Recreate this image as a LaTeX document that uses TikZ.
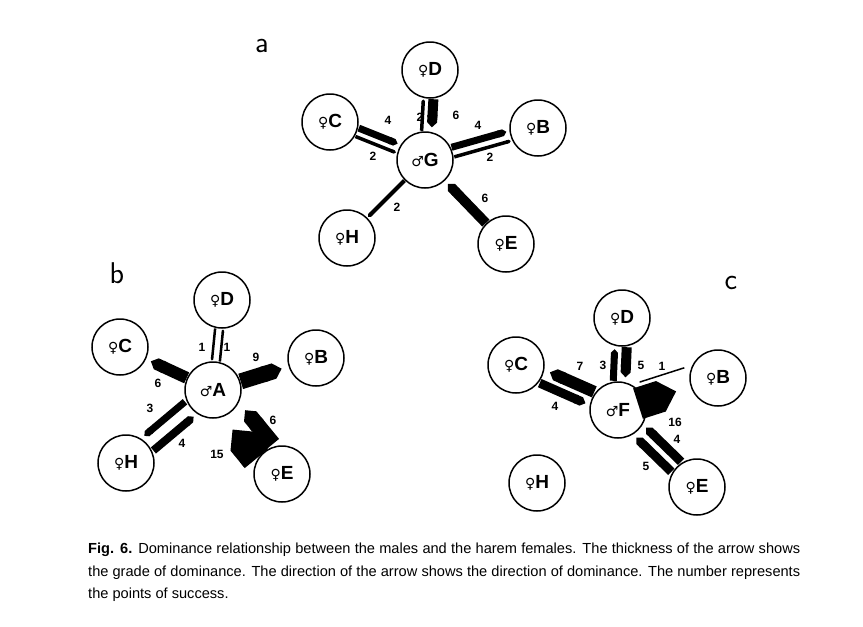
\documentclass[tikz,border=0pt]{standalone}
\usepackage{fontspec}
\setmainfont{Liberation Sans}
\newfontfamily\symfont{DejaVu Sans}
\usetikzlibrary{calc,arrows.meta}

\tikzset{
  animal/.style={draw, line width=1.5pt, circle, minimum size=56pt, inner sep=0pt, font=\bfseries\fontsize{19}{19}\selectfont},
  num/.style={font=\bfseries\fontsize{12}{12}\selectfont, inner sep=0pt},
  panel/.style={font=\sffamily\fontsize{30}{30}\selectfont, inner sep=0pt}
}
% dominance bar from #1 towards #2: width #3, side offset #4
\newcommand\dombar[4]{%
  \pgfmathsetlengthmacro\tipgap{28pt+0.5*#3}%
  \draw[line width=#3, line cap=butt, -{Triangle Cap[]}]
    ($(#1)!29pt!(#2)!#4!90:(#2)$) -- ($(#2)!\tipgap!(#1)!#4!-90:(#1)$);}
\newcommand\fem[1]{{\symfont\fontsize{14}{14}\selectfont ♀}#1}
\newcommand\mal[1]{{\symfont\fontsize{14}{14}\selectfont ♂}#1}

\begin{document}
\begin{tikzpicture}[x=1pt, y=-1pt]
\useasboundingbox (0,0) rectangle (863,627);

% panel a
\node[panel] (la) at (262,46) {a};
\node[animal] (aG) at (425,160) {\mal{G}};
\node[animal] (aD) at (430,70) {\fem{D}};
\node[animal] (aC) at (330,122) {\fem{C}};
\node[animal] (aB) at (538,128) {\fem{B}};
\node[animal] (aH) at (347,238) {\fem{H}};
\node[animal] (aE) at (506,244) {\fem{E}};
\dombar{aD}{aG}{10pt}{5pt}
\dombar{aG}{aD}{3.5pt}{5pt}
\dombar{aC}{aG}{7pt}{5pt}
\dombar{aC}{aG}{3.5pt}{-4pt}
\dombar{aG}{aB}{7pt}{5pt}
\dombar{aG}{aB}{3.5pt}{-5pt}
\dombar{aG}{aH}{4pt}{0pt}
\dombar{aE}{aG}{10pt}{0pt}
\node[num] (na1) at (420,117) {2};
\node[num] (na2) at (456,115) {6};
\node[num] (na3) at (388,120) {4};
\node[num] (na4) at (373,156) {2};
\node[num] (na5) at (478,125) {4};
\node[num] (na6) at (490,157) {2};
\node[num] (na7) at (397,207) {2};
\node[num] (na8) at (485,198) {6};

% panel b
\node[panel] (lb) at (117,273) {b};
\node[animal] (bA) at (213,390) {\mal{A}};
\node[animal] (bD) at (222,300) {\fem{D}};
\node[animal] (bC) at (120,347) {\fem{C}};
\node[animal] (bB) at (316,358) {\fem{B}};
\node[animal] (bH) at (126,463) {\fem{H}};
\node[animal] (bE) at (282,474) {\fem{E}};
\dombar{bD}{bA}{2.5pt}{-4pt}
\dombar{bA}{bD}{2.5pt}{-4pt}
\dombar{bA}{bC}{12pt}{0pt}
\dombar{bA}{bB}{16pt}{0pt}
\dombar{bA}{bH}{7pt}{-9pt}
\dombar{bH}{bA}{8pt}{-8pt}
\dombar{bE}{bA}{30pt}{10pt}
\dombar{bE}{bA}{16pt}{-12pt}
\node[num] (nb1) at (202,347) {1};
\node[num] (nb2) at (227,347) {1};
\node[num] (nb3) at (158,383) {6};
\node[num] (nb4) at (256,357) {9};
\node[num] (nb5) at (150,408) {3};
\node[num] (nb6) at (182,443) {4};
\node[num] (nb7) at (217,454) {15};
\node[num] (nb8) at (273,420) {6};

% panel c
\node[panel] (lc) at (731,283) {c};
\node[animal] (cF) at (618,410) {\mal{F}};
\node[animal] (cD) at (622,318) {\fem{D}};
\node[animal] (cC) at (516,365) {\fem{C}};
\node[animal] (cB) at (718,378) {\fem{B}};
\node[animal] (cH) at (537,483) {\fem{H}};
\node[animal] (cE) at (697,487) {\fem{E}};
\dombar{cF}{cD}{7pt}{6pt}
\dombar{cD}{cF}{10pt}{6pt}
\dombar{cF}{cC}{12pt}{-7pt}
\dombar{cC}{cF}{9pt}{-7pt}
\dombar{cF}{cB}{32pt}{0pt}
\dombar{cB}{cF}{1.5pt}{-20pt}
\dombar{cE}{cF}{9pt}{7pt}
\dombar{cE}{cF}{9pt}{-7pt}
\node[num] (nc1) at (603,365) {3};
\node[num] (nc2) at (641,365) {5};
\node[num] (nc3) at (580,366) {7};
\node[num] (nc4) at (555,406) {4};
\node[num] (nc5) at (662,366) {1};
\node[num] (nc6) at (675,422) {16};
\node[num] (nc7) at (677,439) {4};
\node[num] (nc8) at (646,466) {5};

% caption
\node[anchor=north west, text width=712pt, align=justify, font=\fontsize{14.6}{22.5}\selectfont, inner sep=0pt] (cap) at (88,543)
{\textbf{Fig. 6.} Dominance relationship between the males and the harem females. The thickness of the arrow shows the grade of dominance. The direction of the arrow shows the direction of dominance. The number represents the points of success.};
\end{tikzpicture}
\end{document}
